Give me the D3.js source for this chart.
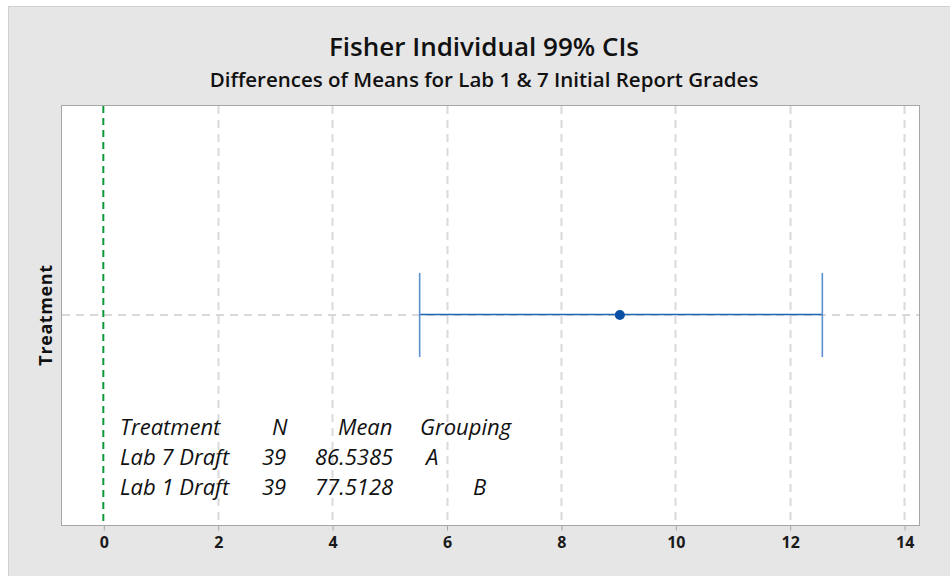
<!DOCTYPE html>
<html>
<head>
<meta charset="utf-8">
<script src="https://cdn.jsdelivr.net/npm/d3@7"></script>
<style>
  html, body { margin: 0; padding: 0; background: #fff; }
  svg { display: block; }
</style>
</head>
<body>
<div id="chart"></div>
<script>
// Fisher individual CI for the difference of means
const categories = ["Lab 7 Draft - Lab 1 Draft"];
const ciLower = [5.53];
const ciMean = [9.03];
const ciUpper = [12.57];
const xTicks = [0, 2, 4, 6, 8, 10, 12, 14];
const tableHeader = ["Treatment", "N", "Mean", "Grouping"];
const tableNames = ["Lab 7 Draft", "Lab 1 Draft"];
const tableN = ["39", "39"];
const tableMeans = ["86.5385", "77.5128"];
const tableGroups = ["A", "B"];

(function () {
  const W = 950, H = 576;
  const plot = { left: 61, top: 105, right: 919, bottom: 525 };

  const svg = d3.select("#chart").append("svg")
    .attr("width", W).attr("height", H);

  // outer panel
  svg.append("rect")
    .attr("x", 8.5).attr("y", 6.5).attr("width", W - 8).attr("height", H - 6)
    .attr("fill", "#e6e6e6").attr("stroke", "#d0d0d0");

  svg.append("rect")
    .attr("x", plot.left + 0.5).attr("y", plot.top + 0.5)
    .attr("width", plot.right - plot.left).attr("height", plot.bottom - plot.top)
    .attr("fill", "#fff");

  const x = d3.scaleLinear().domain([-0.74, 14.26]).range([plot.left, plot.right]);
  const y = d3.scaleBand().domain(categories).range([plot.top, plot.bottom]);

  // vertical gridlines
  svg.append("g").selectAll("line").data(xTicks.filter(d => d !== 0)).join("line")
    .attr("x1", d => Math.round(x(d)) + 0.5).attr("x2", d => Math.round(x(d)) + 0.5)
    .attr("y1", plot.top + 1).attr("y2", plot.bottom)
    .attr("stroke", "#d9d9d9").attr("stroke-width", 2).attr("stroke-dasharray", "8 6");

  // horizontal gridline
  svg.append("g").selectAll("line").data(categories).join("line")
    .attr("x1", plot.left + 1).attr("x2", plot.right)
    .attr("y1", d => y(d) + y.bandwidth() / 2).attr("y2", d => y(d) + y.bandwidth() / 2)
    .attr("stroke", "#d9d9d9").attr("stroke-width", 2).attr("stroke-dasharray", "8 6");

  // reference line at zero
  svg.append("line")
    .attr("x1", x(0)).attr("x2", x(0))
    .attr("y1", plot.top + 1).attr("y2", plot.bottom)
    .attr("stroke", "#0d9a3a").attr("stroke-width", 2).attr("stroke-dasharray", "7 5");

  // plot frame
  svg.append("rect")
    .attr("x", plot.left + 0.5).attr("y", plot.top + 0.5)
    .attr("width", plot.right - plot.left).attr("height", plot.bottom - plot.top)
    .attr("fill", "none").attr("stroke", "#a6a6a6");

  // x axis
  const xAxis = d3.axisBottom(x).tickValues(xTicks).tickSize(5).tickPadding(6).tickFormat(d3.format("d"));
  const ax = svg.append("g").attr("transform", `translate(0.5,${plot.bottom + 0.5})`).call(xAxis);
  ax.select(".domain").remove();
  ax.selectAll(".tick line").attr("stroke", "#a6a6a6");
  ax.selectAll(".tick text")
    .attr("fill", "#1a1a1a").attr("font-family", "'Open Sans', sans-serif")
    .attr("font-size", "16px").attr("font-weight", "bold");

  // intervals
  const rows = categories.map((c, i) => ({ c, lo: ciLower[i], m: ciMean[i], hi: ciUpper[i] }));
  const capH = 42;
  rows.forEach(r => {
    const cy = y(r.c) + y.bandwidth() / 2;
    svg.append("line")
      .attr("x1", x(r.lo)).attr("x2", x(r.hi)).attr("y1", cy - 0.5).attr("y2", cy - 0.5)
      .attr("stroke", "#1f63b5").attr("stroke-width", 1.6);
    [r.lo, r.hi].forEach(v => svg.append("line")
      .attr("x1", x(v)).attr("x2", x(v)).attr("y1", cy - capH).attr("y2", cy + capH)
      .attr("stroke", "#5b8fd0").attr("stroke-width", 1.6));
    svg.append("circle")
      .attr("cx", x(r.m)).attr("cy", cy).attr("r", 5)
      .attr("fill", "#0a4fa3");
  });

  // titles
  svg.append("text")
    .attr("x", 484).attr("y", 56).attr("text-anchor", "middle")
    .attr("font-family", "'Open Sans', sans-serif").attr("font-size", "26px").attr("font-weight", "600")
    .attr("fill", "#111").text("Fisher Individual 99% CIs");
  svg.append("text")
    .attr("x", 484).attr("y", 87).attr("text-anchor", "middle")
    .attr("font-family", "'Open Sans', sans-serif").attr("font-size", "20.5px").attr("font-weight", "600")
    .attr("fill", "#111").text("Differences of Means for Lab 1 & 7 Initial Report Grades");

  // y axis label
  svg.append("text")
    .attr("transform", `translate(52,${(plot.top + plot.bottom) / 2}) rotate(-90)`)
    .attr("text-anchor", "middle").attr("letter-spacing", "0.6px")
    .attr("font-family", "'Open Sans', sans-serif").attr("font-size", "18px").attr("font-weight", "bold")
    .attr("fill", "#111").text("Treatment");

  // grouping table
  const cols = [120, 272, 338, 420];
  const tbl = svg.append("g").attr("font-family", "'Open Sans', sans-serif").attr("font-size", "22px")
    .attr("font-style", "italic").attr("fill", "#111");
  tableHeader.forEach((t, i) => tbl.append("text").attr("x", cols[i]).attr("y", 435).text(t));
  tableNames.forEach((name, i) => {
    const by = 465 + i * 30;
    tbl.append("text").attr("x", 120).attr("y", by).text(name);
    tbl.append("text").attr("x", 262).attr("y", by).text(tableN[i]);
    tbl.append("text").attr("x", 315).attr("y", by).text(tableMeans[i]);
    tbl.append("text").attr("x", 426 + i * 47).attr("y", by).text(tableGroups[i]);
  });
})();
</script>
</body>
</html>
